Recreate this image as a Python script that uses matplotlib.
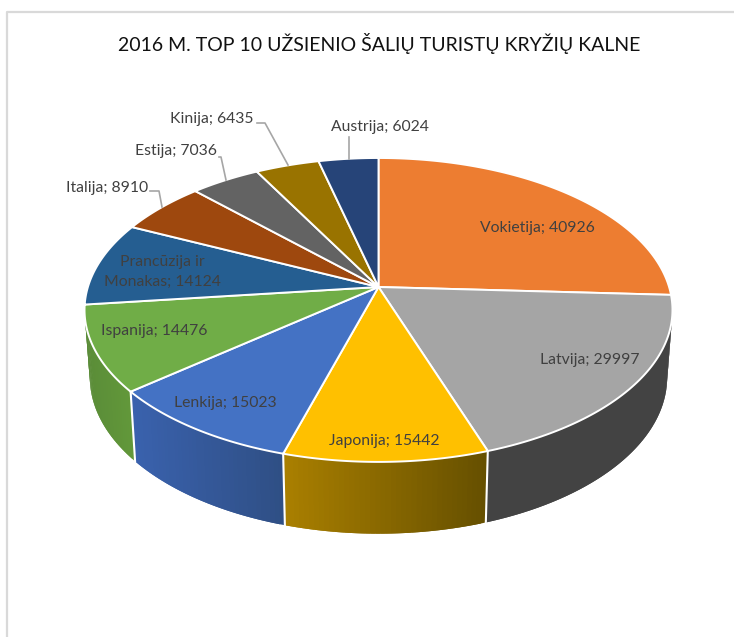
import numpy as np
import matplotlib
matplotlib.use('Agg')
import matplotlib.pyplot as plt
from matplotlib.colors import to_rgb

title = '2016 M. TOP 10 UŽSIENIO ŠALIŲ TURISTŲ KRYŽIŲ KALNE'
countries = ['Vokietija', 'Latvija', 'Japonija', 'Lenkija', 'Ispanija',
             'Prancūzija ir\nMonakas', 'Italija', 'Estija', 'Kinija', 'Austrija']
tourists = [40926, 29997, 15442, 15023, 14476, 14124, 8910, 7036, 6435, 6024]
colors = ['#ED7D31', '#A5A5A5', '#FFC000', '#4472C4', '#70AD47',
          '#255E91', '#9E480E', '#636363', '#997300', '#264478']
# left and right colour of the visible side wall
wall_colors = {1: ('#434343', '#434343'), 2: ('#AB8000', '#665000'),
               3: ('#3A62AE', '#2F4F85'), 4: ('#5A8C38', '#62983A')}
label_pos = [(537, 228), (590, 360), (384, 441), (225, 403), (154, 331),
             (162, 272), (107, 188), (176, 151), (212, 119), (380, 127)]
leaders = {6: [(150, 191), (159, 191), (162, 207)],
           7: [(219, 157), (221, 157), (226, 180)],
           8: [(257, 123), (265, 123), (288, 165)],
           9: [(349, 137), (349, 159)]}

# perspective of the pie disc, in pixels
cx, cy = 378.5, 287
A, B, k = 290.6, 148.5, 0.151


def top_xy(t):
    # t is clockwise from 12 o'clock
    u, v = np.sin(t), np.cos(t)
    w = 1 + k * v
    return cx + A * u / w, cy - B * v / w


def bottom_xy(t):
    x, y = top_xy(t)
    return cx + (x - cx) * 0.982, y + 71.5 + 0.03 * (y - 453)


fig = plt.figure(figsize=(7.34, 6.37), dpi=100)
ax = fig.add_axes([0, 0, 1, 1])
ax.set_xlim(0, 734)
ax.set_ylim(637, 0)
ax.axis('off')
plt.rcParams['font.family'] = ['Lato', 'DejaVu Sans']

ax.plot([7, 7, 734], [637, 12, 12], color='#D9D9D9', lw=1.6)
ax.text(379.5, 44, title, ha='center', va='center', fontsize=14, color='#111111')

edges = np.concatenate([[0], np.cumsum(tourists)]) / sum(tourists) * 2 * np.pi

# side walls, each strip overlaps the next one so no seams show
for i, (c1, c2) in wall_colors.items():
    start = max(edges[i], np.pi / 2 + np.arcsin(k))
    ts = np.linspace(start, edges[i + 1], 41)
    c1, c2 = np.array(to_rgb(c1)), np.array(to_rgb(c2))
    x_ref = top_xy(ts)[0]
    for j in range(len(ts) - 1):
        seg = np.linspace(ts[j], ts[min(j + 2, len(ts) - 1)], 6)
        xt, yt = top_xy(seg)
        xb, yb = bottom_xy(seg)
        f = (top_xy(ts[j])[0] - x_ref.min()) / (x_ref.max() - x_ref.min())
        ax.fill(np.r_[xt, xb[::-1]], np.r_[yt, yb[::-1]], color=c1 + (c2 - c1) * f, lw=0)

for i in [2, 3, 4]:
    xt, yt = top_xy(edges[i])
    xb, yb = bottom_xy(edges[i])
    ax.plot([xt, xb], [yt, yb], color='white', lw=1.5)

# top of the pie
for i, c in enumerate(colors):
    ts = np.linspace(edges[i], edges[i + 1], 80)
    x, y = top_xy(ts)
    ax.fill(np.r_[cx, x], np.r_[cy, y], facecolor=c, edgecolor='white', lw=1.4, joinstyle='round')

for i, name in enumerate(countries):
    ax.text(label_pos[i][0], label_pos[i][1], f'{name}; {tourists[i]}', ha='center', va='center',
            fontsize=11.3, color='#404040', linespacing=1.55)

for pts in leaders.values():
    ax.plot([p[0] for p in pts], [p[1] for p in pts], color='#A6A6A6', lw=1.2)

fig.savefig('out.png', dpi=100, facecolor='white')
